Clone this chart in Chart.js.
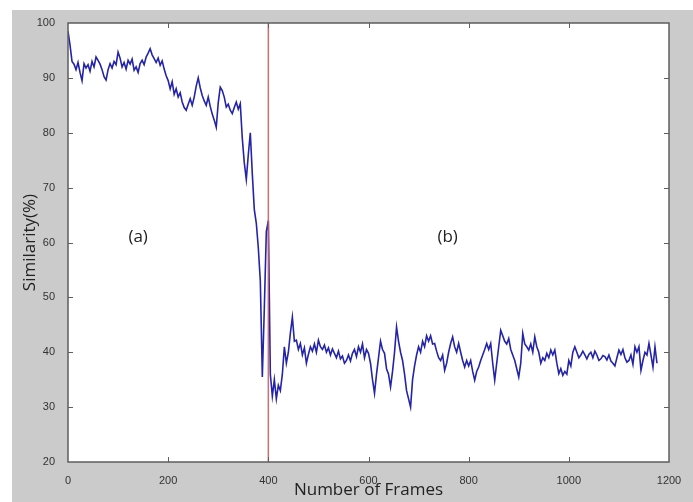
<!DOCTYPE html>
<html>
<head>
<meta charset="utf-8">
<script src="https://cdn.jsdelivr.net/npm/chart.js@4.4.1/dist/chart.umd.min.js"></script>
<style>
  html, body { margin: 0; padding: 0; background: #fff; }
</style>
</head>
<body>
<canvas id="simChart" width="693" height="502"></canvas>
<script>
// one sample every 4 frames
const FRAME_STEP = 4;
const similarity = [
  98.5, 96, 93, 92.5, 91.5, 92.8, 91, 89.5, 92.6, 91.8,
  92.4, 91.2, 93, 92, 93.8, 93.2, 92.5, 91.5, 90.2, 89.6,
  91.5, 92.6, 91.8, 93, 92.4, 94.7, 93.6, 92, 92.8, 91.6,
  93.2, 92.5, 93.4, 91.4, 92, 91, 92.6, 93.2, 92.4, 93.8,
  94.5, 95.3, 94.2, 93.5, 92.8, 93.6, 92.3, 93.1, 91.6, 90.4,
  89.5, 88, 89.3, 87, 88, 86.5, 87.3, 85.6, 84.6, 84.1,
  85.2, 86.2, 85, 86.5, 88.5, 90, 88.2, 86.8, 85.8, 85,
  86.5, 84.8, 83.4, 82.3, 81, 85.5, 88.3, 87.7, 86.5, 84.7,
  85.2, 84.1, 83.5, 84.6, 85.6, 84.3, 85.3, 79, 74.5, 71.5,
  76, 80, 72.5, 66, 63.5, 59, 53, 35.5, 48, 62,
  64, 36, 32, 35, 31.5, 34, 33, 36, 41, 38,
  40, 43.5, 46.4, 42, 42.2, 40.5, 41.6, 39.5, 40.8, 38,
  39.6, 41, 40.2, 41.5, 40, 42.2, 41, 40.5, 41.3, 40,
  40.8, 39.5, 40.6, 39.8, 39, 40.2, 38.8, 39.3, 38, 38.5,
  39.5, 38.4, 39.8, 40.5, 39.2, 41, 40, 41.5, 39, 40.5,
  39.8, 38, 35, 32.5, 36, 39, 42, 40.5, 39.8, 37,
  36, 33.7, 36.5, 40, 44.6, 42, 40, 38.5, 36, 33,
  31.5, 30, 35, 37.5, 39.5, 41, 40, 42, 41, 43,
  42, 43, 41.5, 41.6, 40.2, 39, 38.5, 39.5, 36.7, 38,
  40, 41.6, 42.8, 41, 40, 41.6, 40, 38.5, 37.3, 38.5,
  37.5, 38.5, 36.5, 34.9, 36.5, 37.3, 38.5, 39.5, 40.5, 41.6,
  40.5, 41.6, 38, 34.9, 38, 41, 44, 43, 42, 41.5,
  42.5, 40.5, 39.5, 38.5, 37, 35.5, 38, 43.4, 41.5, 41,
  40.4, 41.5, 40, 42.8, 41, 40, 38, 39, 38.5, 39.8,
  39, 40.4, 39.5, 40.4, 38, 36.1, 37, 35.8, 36.5, 36,
  38.5, 37.5, 40, 41, 40, 39, 39.5, 40.2, 39.5, 38.8,
  39.6, 40, 39, 40.2, 39.5, 38.5, 38.8, 39.4, 39.2, 38.6,
  39.5, 38.4, 38, 37.5, 39, 40.4, 39.6, 40.5, 39, 38.2,
  38.5, 39.5, 37.8, 41, 40, 41, 36.7, 38.5, 40, 39.5,
  41.6, 39.5, 37.3, 41, 38
];
const frames = similarity.map((_, i) => i * FRAME_STEP);

const boundaryFrame = 400;
const xTicks = [0, 200, 400, 600, 800, 1000, 1200];
const yTicks = [20, 30, 40, 50, 60, 70, 80, 90, 100];
const regionNames = ['(a)', '(b)'];
const regionFrames = [140, 758];
const regionValue = 61;

const LABEL_FONT = "'Liberation Sans', Arial, sans-serif";
const TITLE_FONT = "'Open Sans', 'Noto Sans', sans-serif";

// gray figure background, white axes, inward ticks, box, (a)/(b)
const matlabFrame = {
  id: 'matlabFrame',
  beforeDraw(chart) {
    const { ctx, chartArea: a, width, height } = chart;
    ctx.save();
    ctx.fillStyle = '#ffffff';
    ctx.fillRect(0, 0, width, height);
    ctx.fillStyle = '#cbcbcb';
    ctx.fillRect(12, 10, width - 12, height - 10);
    ctx.fillStyle = '#ffffff';
    ctx.fillRect(a.left, a.top, a.right - a.left, a.bottom - a.top);
    ctx.restore();
  },
  afterDraw(chart) {
    const { ctx, chartArea: a, scales: { x, y } } = chart;
    ctx.save();
    ctx.strokeStyle = '#5e5e5e';
    ctx.lineWidth = 1;
    ctx.beginPath();
    xTicks.slice(1, -1).forEach(v => {
      const px = Math.round(x.getPixelForValue(v)) + 0.5;
      ctx.moveTo(px, a.bottom); ctx.lineTo(px, a.bottom - 5);
      ctx.moveTo(px, a.top); ctx.lineTo(px, a.top + 5);
    });
    yTicks.slice(1, -1).forEach(v => {
      const py = Math.round(y.getPixelForValue(v)) + 0.5;
      ctx.moveTo(a.left, py); ctx.lineTo(a.left + 5, py);
      ctx.moveTo(a.right, py); ctx.lineTo(a.right - 5, py);
    });
    ctx.stroke();
    ctx.lineWidth = 1.5;
    ctx.strokeRect(a.left, a.top, a.right - a.left, a.bottom - a.top);

    ctx.fillStyle = '#222';
    ctx.font = "17px " + TITLE_FONT;
    ctx.textAlign = 'center';
    ctx.textBaseline = 'middle';
    regionNames.forEach((t, i) => {
      ctx.fillText(t, x.getPixelForValue(regionFrames[i]), y.getPixelForValue(regionValue));
    });
    ctx.restore();
  }
};

new Chart(document.getElementById('simChart'), {
  type: 'line',
  data: {
    datasets: [{
      label: 'boundary',
      data: [{ x: boundaryFrame, y: yTicks[0] }, { x: boundaryFrame, y: yTicks[yTicks.length - 1] }],
      borderColor: 'rgba(200, 95, 95, 0.9)',
      borderWidth: 1.5,
      pointRadius: 0
    }, {
      label: 'Similarity',
      data: frames.map((f, i) => ({ x: f, y: similarity[i] })),
      borderColor: '#2424a8',
      borderWidth: 1.6,
      pointRadius: 0,
      tension: 0
    }]
  },
  options: {
    responsive: false,
    animation: false,
    layout: { padding: { top: 23, right: 24, left: 0, bottom: 0 } },
    plugins: { legend: { display: false }, tooltip: { enabled: false } },
    scales: {
      x: {
        type: 'linear',
        min: xTicks[0],
        max: xTicks[xTicks.length - 1],
        afterBuildTicks: s => { s.ticks = xTicks.map(v => ({ value: v })); },
        afterFit: s => { s.height = 40; },
        grid: { display: false },
        border: { display: false },
        ticks: {
          color: '#333', padding: 4, maxRotation: 0,
          font: { size: 11, family: LABEL_FONT },
          callback: v => String(v)
        },
        title: {
          display: true,
          text: 'Number of Frames',
          color: '#222',
          padding: { top: 0, bottom: 2 },
          font: { size: 17, family: TITLE_FONT }
        }
      },
      y: {
        min: yTicks[0],
        max: yTicks[yTicks.length - 1],
        afterBuildTicks: s => { s.ticks = yTicks.map(v => ({ value: v })); },
        afterFit: s => { s.width = 68; },
        grid: { display: false },
        border: { display: false },
        ticks: {
          color: '#333', padding: 5,
          font: { size: 11, family: LABEL_FONT },
          callback: v => String(v)
        },
        title: {
          display: true,
          text: 'Similarity(%)',
          color: '#222',
          padding: { top: 20, bottom: 0 },
          font: { size: 17, family: TITLE_FONT }
        }
      }
    }
  },
  plugins: [matlabFrame]
});
</script>
</body>
</html>
